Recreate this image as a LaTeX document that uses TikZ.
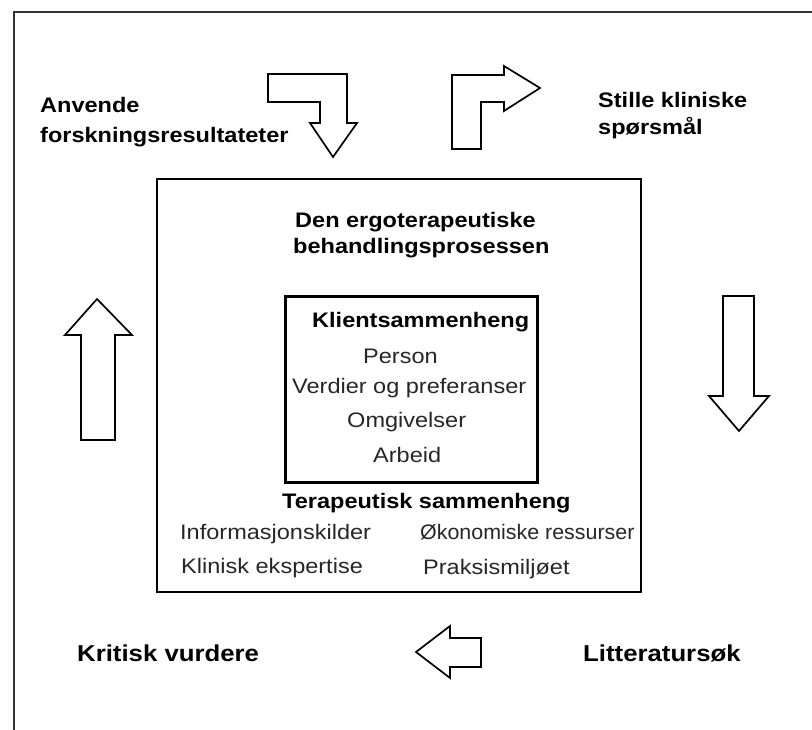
\documentclass[tikz,border=0pt]{standalone}
\usepackage{fontspec}
\setmainfont{Liberation Sans}[FakeStretch=1.12]
\newfontfamily\narrowsans{Liberation Sans}[FakeStretch=1.02]
\begin{document}
\begin{tikzpicture}[x=1pt,y=-1pt,
		lbl/.style={inner sep=0pt, anchor=base west, font=\fontsize{21}{26}\selectfont\bfseries},
		biglbl/.style={lbl, font=\fontsize{23}{28}\selectfont\bfseries},
		item/.style={inner sep=0pt, anchor=base west, font=\fontsize{21}{26}\selectfont, text=black!85},
		blockarrow/.style={draw=black, line width=1.7pt, fill=white, line join=miter}]
		\useasboundingbox (0,0) rectangle (812,730);
		
		% frame and boxes
		\draw[line width=1.4pt, black!80] (14,745) -- (14,12) -- (825,12);
		\draw[line width=1.5pt] (157,179) rectangle (641,592);
		\draw[line width=3pt] (285,297) rectangle (537,482);
		
		% block arrows
		\draw[blockarrow] (268,74) -- (347,74) -- (347,123) -- (357,123) -- (333,157) -- (310,123) -- (320,123) -- (320,102) -- (268,102) -- cycle;
		\draw[blockarrow] (452,149) -- (481,149) -- (481,102) -- (504,102) -- (504,111) -- (540,88) -- (504,66) -- (504,75) -- (452,75) -- cycle;
		\draw[blockarrow] (723,296) -- (754,296) -- (754,396) -- (769,396) -- (739,431) -- (709,396) -- (723,396) -- cycle;
		\draw[blockarrow] (481,638) -- (481,667) -- (450,667) -- (450,678) -- (416,652) -- (450,626) -- (450,638) -- cycle;
		\draw[blockarrow] (81,440) -- (115,440) -- (115,335) -- (132,335) -- (97,299) -- (65,335) -- (81,335) -- cycle;
		
		% cycle labels
		\node[lbl] (apply1) at (40,113) {Anvende};
		\node[lbl] (apply2) at (40,143) {forskningsresultateter};
		\node[lbl] (ask1) at (598,108) {Stille kliniske};
		\node[lbl] (ask2) at (598,135) {spørsmål};
		\node[biglbl] (appraise) at (77,661) {Kritisk vurdere};
		\node[biglbl] (search) at (583,661) {Litteratursøk};
		
		% process box
		\node[lbl] (proc1) at (295,228) {Den ergoterapeutiske};
		\node[lbl] (proc2) at (293,254) {behandlingsprosessen};
		
		% client context
		\node[lbl] (client) at (312,327) {Klientsammenheng};
		\node[item] (person) at (363,363) {Person};
		\node[item] (values) at (292,393) {Verdier og preferanser};
		\node[item] (env) at (347,427) {Omgivelser};
		\node[item] (work) at (373,462) {Arbeid};
		
		% therapeutic context
		\node[lbl] (thera) at (282,508) {Terapeutisk sammenheng};
		\node[item] (info) at (180,539) {Informasjonskilder};
		\node[item, font=\fontsize{21}{26}\narrowsans] (econ) at (420,539) {Økonomiske ressurser};
		\node[item] (expert) at (181,573) {Klinisk ekspertise};
		\node[item] (practice) at (423,574) {Praksismiljøet};
		
	\end{tikzpicture}
\end{document}
